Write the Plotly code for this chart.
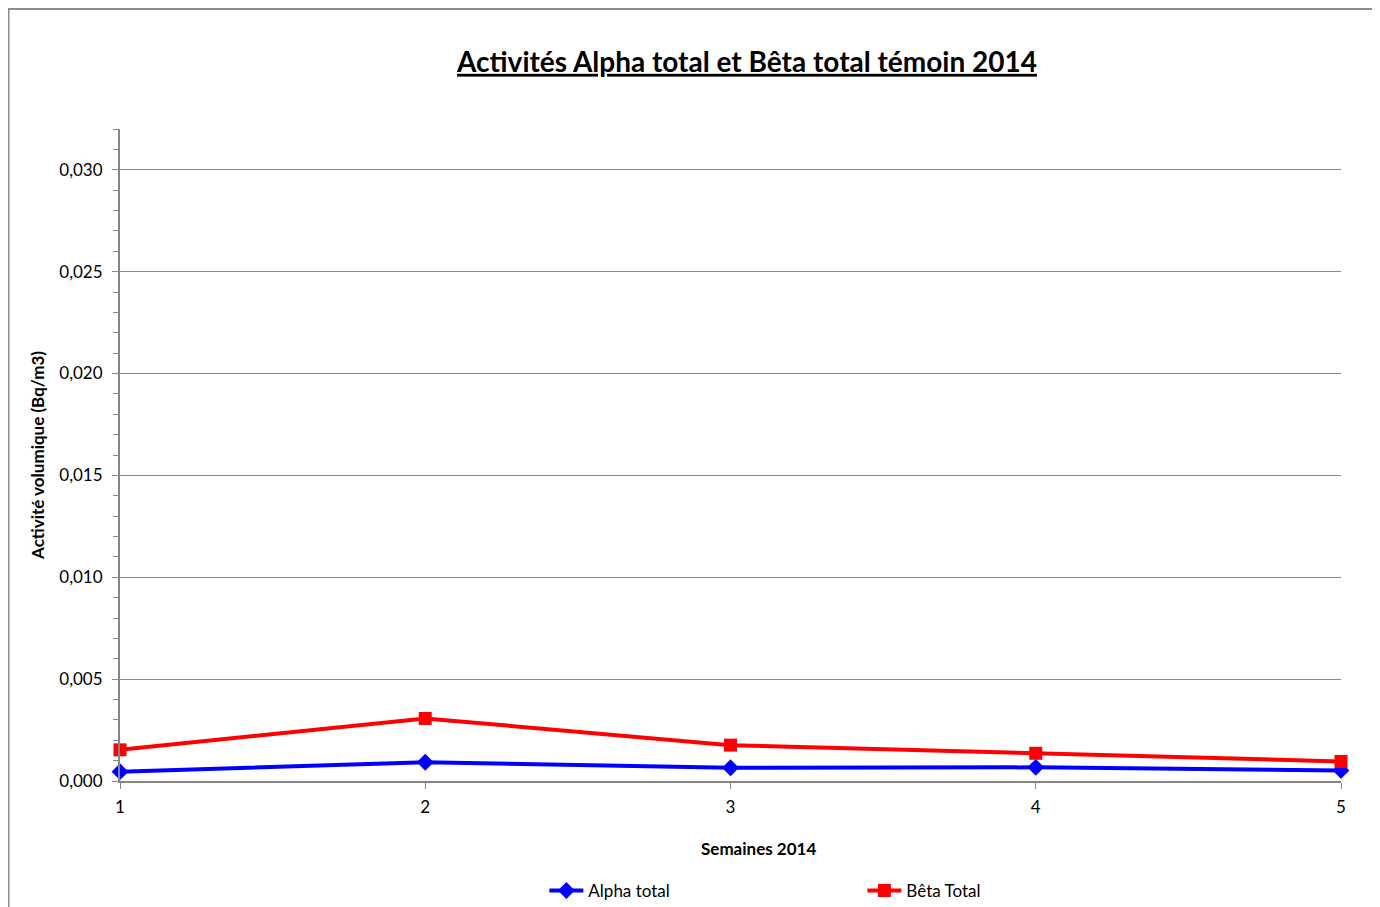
import plotly.graph_objects as go

weeks = [1, 2, 3, 4, 5]
alpha_total = [0.00046, 0.00092, 0.00065, 0.00067, 0.00052]
beta_total = [0.00153, 0.00307, 0.00176, 0.00136, 0.00096]
y_ticks = [0.0, 0.005, 0.010, 0.015, 0.020, 0.025, 0.030]

FONT = "Lato"
GRAY = "#868686"

# page has an 8px body margin; plot area placed to match the reference
L, T, R, B = 112, 121, 1333, 773
W, H = 1380, 907
PW, PH = R - L, B - T

fig = go.Figure()
fig.add_trace(go.Scatter(
    x=weeks, y=alpha_total, name="Alpha total", mode="lines+markers",
    line=dict(color="#0000FF", width=4),
    marker=dict(symbol="diamond", size=13, color="#0000FF"),
    cliponaxis=False,
))
fig.add_trace(go.Scatter(
    x=weeks, y=beta_total, name="Bêta Total", mode="lines+markers",
    line=dict(color="#FF0000", width=4),
    marker=dict(symbol="square", size=13, color="#FF0000"),
    cliponaxis=False,
))

fig.update_layout(
    width=W, height=H,
    margin=dict(l=L, r=W - R, t=T, b=H - B, autoexpand=False),
    paper_bgcolor="white", plot_bgcolor="white",
    separators=", ",
    font=dict(family=FONT, size=17, color="black"),
    title=dict(
        text="<b><u>Activités Alpha total et Bêta total témoin 2014</u></b>",
        x=739 / W, xanchor="center", y=1 - 54 / H, yanchor="middle",
        font=dict(family=FONT, size=28, color="black"),
    ),
    showlegend=True,
    legend=dict(
        orientation="h", x=0.608, xanchor="center",
        y=-110 / PH, yanchor="middle",
        font=dict(family=FONT, size=17),
        entrywidth=269, itemwidth=34,
        bgcolor="rgba(0,0,0,0)",
    ),
    xaxis=dict(
        range=[1, 5], tickvals=weeks, ticktext=[str(w) for w in weeks],
        showgrid=False, zeroline=False,
        showline=True, linecolor=GRAY, linewidth=2,
        ticks="outside", ticklen=6, tickcolor=GRAY, tickwidth=1,
        ticklabelstandoff=4,
        tickfont=dict(family=FONT, size=17),
    ),
    yaxis=dict(
        range=[0, 0.032], tickvals=y_ticks, tickformat=".3f",
        showgrid=True, gridcolor=GRAY, gridwidth=1, zeroline=False,
        showline=True, linecolor=GRAY, linewidth=2,
        ticks="outside", ticklen=6, tickcolor=GRAY, tickwidth=1,
        ticklabelstandoff=6,
        minor=dict(dtick=0.001, tick0=0, ticks="outside", ticklen=5, tickcolor=GRAY, showgrid=False),
        tickfont=dict(family=FONT, size=17),
        title=dict(text="<b>Activité volumique (Bq/m3)</b>", font=dict(family=FONT, size=17), standoff=10),
    ),
)

fig.add_annotation(
    text="<b>Semaines 2014</b>", xref="paper", yref="paper",
    x=(758 - 120) / PW, y=-67 / PH, xanchor="center", yanchor="middle",
    showarrow=False, font=dict(family=FONT, size=17, color="black"),
)

fig.add_shape(
    type="rect", xref="paper", yref="paper",
    x0=(0.5 - L) / PW, x1=1.2, y0=-0.5, y1=(B - 1) / PH,
    line=dict(color="#8c8c8c", width=2), fillcolor="rgba(0,0,0,0)", layer="below",
)

fig.write_html("out.html")
